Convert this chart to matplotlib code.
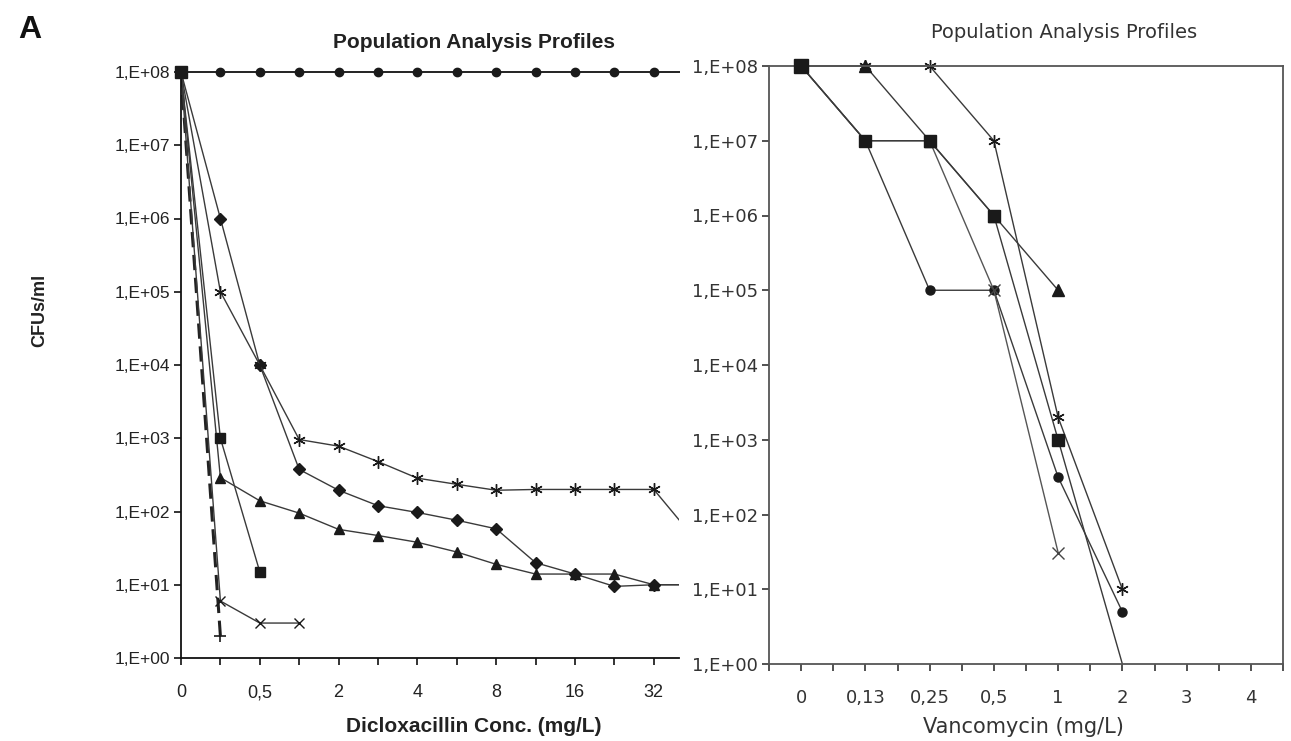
import matplotlib
matplotlib.use('Agg')
import matplotlib.pyplot as plt
from matplotlib.patches import Rectangle
from matplotlib.ticker import NullLocator

# ---------------- data ----------------
# Left panel: Dicloxacillin (category axis)
dic_conc = ['0', '0,25', '0,5', '1', '2', '3', '4', '6', '8', '12', '16', '24', '32', '64']
dic_tick_labels = ['0', '', '0,5', '', '2', '', '4', '', '8', '', '16', '', '32', '']
dic_circle = [1e8, 1e8, 1e8, 1e8, 1e8, 1e8, 1e8, 1e8, 1e8, 1e8, 1e8, 1e8, 1e8, 1e8]
dic_diamond = [1e8, 1e6, 1e4, 375, 195, 120, 97, 76, 58, 20, 14, 9.5, 10, 10]
dic_star = [1e8, 1e5, 1e4, 960, 780, 480, 285, 235, 195, 200, 200, 200, 200, 45]
dic_triangle = [1e8, 290, 140, 95, 57, 47, 38, 28, 19, 14, 14, 14, 10, 10]
dic_square = [1e8, 1000, 15]
dic_x = [1e8, 6, 3, 3]
dic_plus = [1e8, 2]

# Right panel: Vancomycin (category axis)
van_conc = ['0', '0,13', '0,25', '0,5', '1', '2', '3', '4']
van_square = [1e8, 1e7, 1e7, 1e6, 1e3, 1]
van_triangle = [1e8, 1e8, 1e7, 1e6, 1e5]
van_x = [1e8, 1e7, 1e7, 1e5, 31]
van_star = [1e8, 1e8, 1e8, 1e7, 2e3, 10]
van_circle = [1e8, 1e7, 1e5, 1e5, 316, 5]

y_ticks = [1e0, 1e1, 1e2, 1e3, 1e4, 1e5, 1e6, 1e7, 1e8]
y_tick_labels = ['1,E+00', '1,E+01', '1,E+02', '1,E+03', '1,E+04',
                 '1,E+05', '1,E+06', '1,E+07', '1,E+08']

# ---------------- figure ----------------
W, H = 1291, 741
fig = plt.figure(figsize=(W / 100, H / 100), dpi=100)
fig.patch.set_facecolor('white')


def fx(px):
    return px / W


def fy(py):
    return 1 - py / H


LINE = '#3a3a3a'
MK = '#1a1a1a'
STAR = (6, 2, 0)

# ---- left axes ----
ax1 = fig.add_axes([fx(181), fy(658), fx(679) - fx(181), fy(72) - fy(658)])
ax1.set_zorder(1)
ax1.set_facecolor('white')
xi = list(range(len(dic_conc)))

ax1.plot(xi[:len(dic_plus)], dic_plus, color='#222222', lw=2.2, ls=(0, (5, 2.5)),
         marker='+', ms=9, mew=1.2, mec=MK)
ax1.plot(xi[:len(dic_x)], dic_x, color=LINE, lw=1.0, marker='x', ms=7, mew=1.0, mec=MK)
ax1.plot(xi[:len(dic_triangle)], dic_triangle, color=LINE, lw=1.0, marker='^', ms=7.5, mfc=MK, mec=MK)
ax1.plot(xi[:len(dic_diamond)], dic_diamond, color=LINE, lw=1.0, marker='D', ms=6, mfc=MK, mec=MK)
ax1.plot(xi[:len(dic_star)], dic_star, color=LINE, lw=1.0, marker=STAR, ms=9, mew=1.0, mec=MK)
ax1.plot(xi[:len(dic_square)], dic_square, color=LINE, lw=1.0, marker='s', ms=7, mfc=MK, mec=MK)
ax1.plot(xi[:len(dic_circle)], dic_circle, color='#222222', lw=1.4, marker='o', ms=6,
         mfc=MK, mec=MK, clip_on=False, zorder=4)
ax1.plot(xi[:1], dic_square[:1], ls='none', marker='s', ms=8, mfc=MK, mec=MK,
         clip_on=False, zorder=5)

ax1.set_yscale('log')
ax1.set_yticks(y_ticks)
ax1.set_yticklabels(y_tick_labels)
ax1.yaxis.set_minor_locator(NullLocator())
ax1.set_xticks(xi)
ax1.set_xticklabels(dic_tick_labels)
ax1.set_ylim(1, 1e8)
ax1.set_xlim(0, (679 - 181) / 39.4)
for s in ['top', 'right']:
    ax1.spines[s].set_visible(False)
for s in ['left', 'bottom']:
    ax1.spines[s].set_linewidth(1.3)
    ax1.spines[s].set_color('#111111')
ax1.tick_params(direction='out', length=5, width=1.2, colors='#111111',
                labelsize=12.5, pad=3)
ax1.tick_params(axis='x', pad=14, labelsize=13)
for lab in ax1.get_xticklabels() + ax1.get_yticklabels():
    lab.set_family('Liberation Sans')
    lab.set_color('#222222')

# left-panel texts (below the covering rectangle)
fig.text(fx(333), fy(42), 'Population Analysis Profiles', ha='left', va='center',
         fontsize=15, fontweight='bold', family='Liberation Sans', color='#222222',
         zorder=1.5)
fig.text(fx(474), fy(726), 'Dicloxacillin Conc. (mg/L)', ha='center', va='center',
         fontsize=15, fontweight='bold', family='Liberation Sans', color='#222222')
fig.text(fx(40), fy(310), 'CFUs/ml', ha='center', va='center', rotation=90,
         fontsize=13, fontweight='bold', family='Liberation Sans', color='#222222')
fig.text(fx(30), fy(30), 'A', ha='center', va='center', fontsize=23,
         fontweight='bold', family='Liberation Sans', color='#111111')

# white cover for the right panel area
cover = Rectangle((fx(680), 0), 1 - fx(680), 1, transform=fig.transFigure,
                  facecolor='white', edgecolor='none', zorder=2)
fig.add_artist(cover)

# ---- right axes ----
ax2 = fig.add_axes([fx(769), fy(664), fx(1283) - fx(769), fy(66) - fy(664)])
ax2.set_zorder(3)
ax2.set_facecolor('white')
vi = list(range(len(van_conc)))

ax2.plot(vi[:len(van_circle)], van_circle, color=LINE, lw=1.0, marker='o', ms=6.5, mfc=MK, mec=MK)
ax2.plot(vi[:len(van_x)], van_x, color='#555555', lw=1.0, marker='x', ms=8, mew=1.0, mec='#444444')
ax2.plot(vi[:len(van_star)], van_star, color=LINE, lw=1.0, marker=STAR, ms=9, mew=1.0, mec=MK,
         clip_on=False)
ax2.plot(vi[:len(van_triangle)], van_triangle, color=LINE, lw=1.0, marker='^', ms=8.5, mfc=MK, mec=MK,
         clip_on=False)
ax2.plot(vi[:len(van_square)], van_square, color=LINE, lw=1.0, marker='s', ms=8.5, mfc=MK, mec=MK,
         markevery=[0, 1, 2, 3, 4])
ax2.plot(vi[:1], van_square[:1], ls='none', marker='s', ms=9.5, mfc=MK, mec=MK,
         clip_on=False, zorder=5)

ax2.set_yscale('log')
ax2.set_yticks(y_ticks)
ax2.set_yticklabels(y_tick_labels)
ax2.yaxis.set_minor_locator(NullLocator())
ax2.set_xticks(vi)
ax2.set_xticklabels(van_conc)
ax2.set_xticks([v + 0.5 for v in vi[:-1]] + [-0.5, len(van_conc) - 0.5], minor=True)
ax2.set_ylim(1, 1e8)
ax2.set_xlim(-0.5, len(van_conc) - 0.5)
for s in ax2.spines.values():
    s.set_linewidth(1.3)
    s.set_color('#555555')
ax2.tick_params(which='both', direction='out', length=5, width=1.2, colors='#333333',
                labelsize=13, pad=3)
ax2.tick_params(axis='x', pad=13)
for lab in ax2.get_xticklabels() + ax2.get_yticklabels():
    lab.set_family('DejaVu Sans')
    lab.set_color('#333333')

fig.text(fx(1064), fy(33), 'Population Analysis Profiles', ha='center', va='center',
         fontsize=14, family='DejaVu Sans', color='#333333', zorder=4)
fig.text(fx(1023), fy(727), 'Vancomycin (mg/L)', ha='center', va='center',
         fontsize=15, family='DejaVu Sans', color='#333333', zorder=4)

fig.savefig('out.png', dpi=100, facecolor='white')
